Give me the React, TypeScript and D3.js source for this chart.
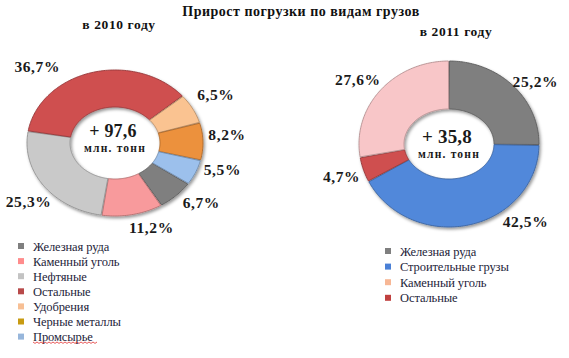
import React from "react";
import * as d3 from "d3";

const title = "Прирост погрузки по видам грузов";
const subtitle2010 = "в 2010 году";
const subtitle2011 = "в 2011 году";
const centerValue2010 = "+ 97,6";
const centerValue2011 = "+ 35,8";
const centerUnit = "млн. тонн";

// 2010 slices (clockwise order, same as legend)
const categories2010 = ["Железная руда", "Каменный уголь", "Нефтяные", "Остальные", "Удобрения", "Черные металлы", "Промсырье"];
const values2010 = [6.7, 11.2, 25.3, 36.7, 6.5, 8.2, 5.5];
const labels2010 = ["6,7%", "11,2%", "25,3%", "36,7%", "6,5%", "8,2%", "5,5%"];
const sliceColors2010 = ["#7f7f7f", "#f89a9c", "#c9c9c9", "#cf4f50", "#fac391", "#ec913c", "#9cc0ec"];
const legendColors2010 = ["#7f7f7f", "#ff8c8c", "#c3c3c3", "#b84a4a", "#f7bf94", "#c89b12", "#97b6db"];

// 2011 slices (clockwise order)
const categories2011 = ["Железная руда", "Строительные грузы", "Остальные", "Каменный уголь"];
const values2011 = [25.2, 42.5, 4.7, 27.6];
const labels2011 = ["25,2%", "42,5%", "4,7%", "27,6%"];
const sliceColors2011 = ["#7f7f7f", "#5188da", "#cf4f50", "#f8c6c8"];
const legend2011 = ["Железная руда", "Строительные грузы", "Каменный уголь", "Остальные"];
const legendColors2011 = ["#7f7f7f", "#4a80d6", "#f7b795", "#c0403f"];

// layout
const FONT = "Liberation Serif";
const L = { cx: 115, cy: 143, rxo: 88, ryo: 73, rxi: 45, ryi: 36, start: 123.9, labelR: 113, labelSy: 0.82 };
const R = { cx: 449, cy: 144, rxo: 90, ryo: 83, rxi: 45, ryi: 35, start: 0, labelR: 113, labelSy: 0.92 };
const nudge2010 = [[8, -7], [14, -6], [5, 5], [-48, 13], [1, -5], [-1, -6], [4, -10]];
const nudge2011 = [[6, 11], [51, -23], [0, 1], [-5, 3]];

function ellipticSector(a0: number, a1: number, rxo: number, ryo: number, rxi: number, ryi: number) {
  const p = d3.path();
  const n = Math.max(3, Math.ceil((a1 - a0) / 0.02));
  for (let i = 0; i <= n; i++) {
    const a = a0 + ((a1 - a0) * i) / n;
    const x = rxo * Math.sin(a), y = -ryo * Math.cos(a);
    if (i === 0) p.moveTo(x, y); else p.lineTo(x, y);
  }
  for (let i = n; i >= 0; i--) {
    const a = a0 + ((a1 - a0) * i) / n;
    p.lineTo(rxi * Math.sin(a), -ryi * Math.cos(a));
  }
  p.closePath();
  return p.toString();
}

function Donut({ cfg, values, colors, labels, nudges, center }: any) {
  const start = (cfg.start * Math.PI) / 180;
  const pie = d3.pie<number>().sort(null).value((d) => d).startAngle(start).endAngle(start + 2 * Math.PI).padAngle(0.012);
  const arcs = pie(values);
  return (
    <g transform={`translate(${cfg.cx},${cfg.cy})`}>
      <g filter="url(#shadow)">
        {arcs.map((a, i) => (
          <path
            key={i}
            d={ellipticSector(a.startAngle + a.padAngle / 2, a.endAngle - a.padAngle / 2, cfg.rxo, cfg.ryo, cfg.rxi, cfg.ryi)}
            fill={colors[i]}
            stroke={d3.color(colors[i])!.darker(0.9).formatHex()}
            strokeWidth={0.9}
          />
        ))}
      </g>
      {arcs.map((a, i) => {
        const mid = (a.startAngle + a.endAngle) / 2;
        const x = cfg.labelR * Math.sin(mid) + nudges[i][0];
        const y = -cfg.labelR * Math.cos(mid) * cfg.labelSy + nudges[i][1];
        return (
          <text key={i} x={x} y={y + 5} textAnchor="middle" fontFamily={FONT} fontSize={15.5} fontWeight={700} letterSpacing={0.6} fill="#1a1a1a">
            {labels[i]}
          </text>
        );
      })}
      <text x={-2} y={center.valueY} textAnchor="middle" fontFamily={FONT} fontSize={center.size} fontWeight={700} letterSpacing={0.2} fill="#1a1a1a">
        {center.value}
      </text>
      <text x={0} y={center.unitY} textAnchor="middle" fontFamily={FONT} fontSize={11.5} fontWeight={700} letterSpacing={1.2} fill="#1a1a1a">
        {centerUnit}
      </text>
    </g>
  );
}

function Legend({ x, y, names, colors, step }: any) {
  return (
    <g>
      {names.map((n: string, i: number) => (
        <g key={i} transform={`translate(${x},${y + i * step})`}>
          <rect x={0} y={-3} width={6} height={6} fill={colors[i]} />
          <text x={15} y={4.5} fontFamily={FONT} fontSize={12.5} letterSpacing={-0.1} fill="#24243a">
            {n}
          </text>
        </g>
      ))}
    </g>
  );
}

export default function App() {
  const squiggle = d3.range(0, 33).map((i) => [33 + i * 2, 342 + (i % 2 === 0 ? 0 : 1.4)] as [number, number]);
  return (
    <svg width={569} height={358} style={{ position: "absolute", left: 0, top: 0, background: "#fff" }} fontFamily={FONT}>
      <defs>
        <filter id="shadow" x="-20%" y="-20%" width="140%" height="140%">
          <feDropShadow dx={1.5} dy={2} stdDeviation={1.4} floodColor="#000" floodOpacity={0.4} />
        </filter>
      </defs>
      <text x={301} y={16} textAnchor="middle" fontFamily={FONT} fontSize={14} fontWeight={700} letterSpacing={0.5} fill="#111">
        {title}
      </text>
      <text x={119} y={29} textAnchor="middle" fontFamily={FONT} fontSize={13.5} fontWeight={700} letterSpacing={0.6} fill="#111">
        {subtitle2010}
      </text>
      <text x={456} y={36} textAnchor="middle" fontFamily={FONT} fontSize={13.5} fontWeight={700} letterSpacing={0.6} fill="#111">
        {subtitle2011}
      </text>
      <Donut cfg={L} values={values2010} colors={sliceColors2010} labels={labels2010} nudges={nudge2010} center={{ value: centerValue2010, size: 18, valueY: -6, unitY: 9 }} />
      <Donut cfg={R} values={values2011} colors={sliceColors2011} labels={labels2011} nudges={nudge2011} center={{ value: centerValue2011, size: 19, valueY: -1, unitY: 14 }} />
      <Legend x={18} y={246} names={categories2010} colors={legendColors2010} step={15.1} />
      <Legend x={385} y={251} names={legend2011} colors={legendColors2011} step={15.6} />
      <path d={d3.line()(squiggle) ?? ""} fill="none" stroke="#e23030" strokeWidth={0.8} />
    </svg>
  );
}
